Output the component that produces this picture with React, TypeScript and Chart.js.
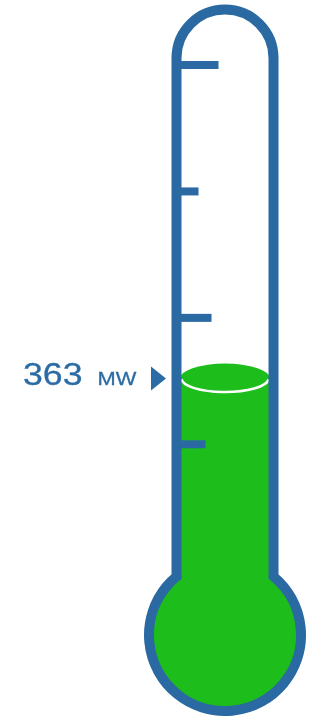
import React, { useEffect, useRef } from "react";
import { Chart, registerables } from "chart.js";

Chart.register(...registerables);

// ---- data ----
const CATEGORIES: string[] = ["Load"];
const VALUES: number[] = [363];
const UNIT = "MW";
const SCALE_MIN = 320;
const SCALE_MAX = 425;
const TICK_VALUES: number[] = [425, 400, 375, 350];

// ---- style ----
const BLUE = "#2a69a2";
const TEXT_BLUE = "#2c6ca4";
const GREEN = "#1dbd1b";
const TICK_LENGTHS = [38, 18, 31, 25];
const FONT = '"Liberation Sans", Arial, Helvetica, sans-serif';

const thermoPlugin = {
  id: "thermo",
  afterDatasetsDraw(chart: any) {
    const ctx: CanvasRenderingContext2D = chart.ctx;
    const meta = chart.getDatasetMeta(0);
    const bar = meta.data[0];
    if (!bar) return;
    const props = bar.getProps(["x", "y", "base", "width"], true);
    const cx = props.x;
    const topY = props.y;
    const half = props.width / 2;
    const yScale = chart.scales.y;

    const lw = 10;
    const tubeR = half + 3.5; // centerline radius of the tube walls
    const leftX = cx - tubeR;
    const rightX = cx + tubeR;
    const arcCY = 58;
    const bulbCY = 635;
    const bulbR = 76;
    const dy = Math.sqrt(bulbR * bulbR - tubeR * tubeR);
    const neckY = bulbCY - dy;

    ctx.save();
    // bulb fill
    ctx.fillStyle = GREEN;
    ctx.beginPath();
    ctx.arc(cx, bulbCY, bulbR, 0, Math.PI * 2);
    ctx.fill();
    ctx.fillRect(leftX, neckY - 30, rightX - leftX, 40);

    // liquid top ellipse
    ctx.beginPath();
    ctx.ellipse(cx, topY, half, 15, 0, 0, Math.PI * 2);
    ctx.fill();
    ctx.strokeStyle = "#ffffff";
    ctx.lineWidth = 2.5;
    ctx.beginPath();
    ctx.ellipse(cx, topY, half - 1.5, 13.5, 0, 0.05, Math.PI - 0.05);
    ctx.stroke();

    // outline
    ctx.strokeStyle = BLUE;
    ctx.lineWidth = lw;
    ctx.lineJoin = "miter";
    ctx.beginPath();
    ctx.moveTo(leftX, neckY);
    ctx.lineTo(leftX, arcCY);
    ctx.arc(cx, arcCY, tubeR, Math.PI, Math.PI * 2, false);
    ctx.lineTo(rightX, neckY);
    const a0 = Math.atan2(neckY - bulbCY, rightX - cx);
    const a1 = Math.atan2(neckY - bulbCY, leftX - cx);
    ctx.arc(cx, bulbCY, bulbR, a0, a1 + Math.PI * 2, false);
    ctx.closePath();
    ctx.stroke();

    // ticks
    ctx.fillStyle = BLUE;
    const innerLeft = leftX + lw / 2 - 1;
    TICK_VALUES.forEach((v, i) => {
      const py = yScale.getPixelForValue(v);
      ctx.fillRect(innerLeft, py - 4, TICK_LENGTHS[i % TICK_LENGTHS.length], 8);
    });

    // arrow
    ctx.fillStyle = TEXT_BLUE;
    ctx.beginPath();
    ctx.moveTo(151, topY - 12);
    ctx.lineTo(166, topY);
    ctx.lineTo(151, topY + 12);
    ctx.closePath();
    ctx.fill();

    // label
    ctx.translate(23, topY + 6);
    ctx.scale(1.15, 1);
    ctx.textBaseline = "alphabetic";
    ctx.textAlign = "left";
    ctx.strokeStyle = TEXT_BLUE;
    ctx.lineWidth = 0.3;
    ctx.font = `31px ${FONT}`;
    const numText = String(VALUES[0]);
    ctx.fillText(numText, 0, 0);
    ctx.strokeText(numText, 0, 0);
    const w = ctx.measureText(numText).width;
    ctx.font = `19px ${FONT}`;
    ctx.fillText(UNIT, w + 13, 0);
    ctx.strokeText(UNIT, w + 13, 0);
    ctx.restore();
  },
};

export default function App() {
  const ref = useRef<HTMLCanvasElement | null>(null);
  useEffect(() => {
    if (!ref.current) return;
    const chart = new Chart(ref.current, {
      type: "bar",
      data: {
        labels: CATEGORIES,
        datasets: [
          {
            data: VALUES,
            backgroundColor: GREEN,
            borderWidth: 0,
            barPercentage: 1,
            categoryPercentage: 1,
          },
        ],
      },
      options: {
        animation: false,
        responsive: false,
        devicePixelRatio: 1,
        layout: { padding: { top: 65, bottom: 121, left: 180, right: 44 } },
        plugins: {
          legend: { display: false },
          tooltip: { enabled: false },
          title: { display: false },
        },
        scales: {
          x: { display: false },
          y: { display: false, min: SCALE_MIN, max: SCALE_MAX },
        },
      },
      plugins: [thermoPlugin],
    } as any);
    return () => chart.destroy();
  }, []);
  return (
    <div style={{ position: "fixed", left: 0, top: 0, width: 314, height: 717, background: "#fff" }}>
      <canvas ref={ref} width={314} height={717} style={{ display: "block" }} />
    </div>
  );
}
